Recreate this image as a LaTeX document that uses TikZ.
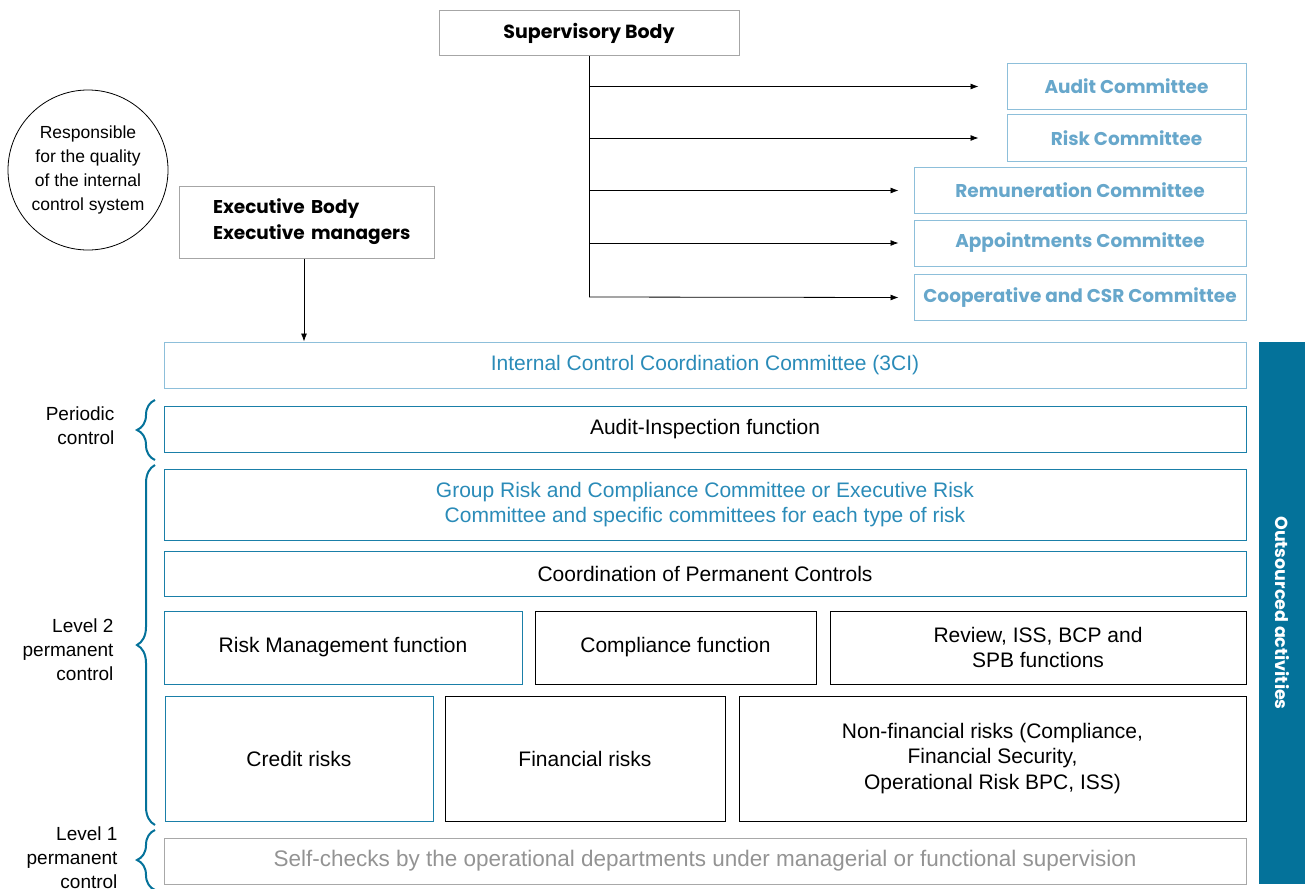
\documentclass[tikz,border=0pt]{standalone}
\usepackage{fontspec}
\setmainfont{Liberation Sans}
\newfontfamily\headfont{Poppins}
\usetikzlibrary{arrows.meta,decorations.pathreplacing}
\definecolor{lightframe}{HTML}{8DBFDA}
\definecolor{comtext}{HTML}{67A7CB}
\definecolor{bluetext}{HTML}{2A8BB8}
\definecolor{darkframe}{HTML}{1A7FA8}
\definecolor{barfill}{HTML}{04729A}
\definecolor{grayframe}{HTML}{A8A8A8}
\begin{document}
\begin{tikzpicture}[x=1pt,y=-1pt,
  box/.style={draw,rectangle,inner sep=0pt,line width=1pt,align=center,
    font=\fontsize{21}{25.5}\selectfont},
  headbox/.style={box,draw=gray!70,font=\headfont\bfseries\fontsize{18.5}{26}\selectfont},
  combox/.style={headbox,draw=lightframe,text=comtext,minimum height=46},
  widebox/.style={box,minimum width=1082,minimum height=46},
  arrow/.style={-{Latex[length=8pt,width=6pt]},line width=0.8pt},
  bracket/.style={decorate,decoration={brace,amplitude=18pt},draw=barfill,line width=2pt},
  side/.style={anchor=east,align=right,font=\fontsize{19}{24}\selectfont}]
  \useasboundingbox (0,0) rectangle (1305,888);

  \node[headbox,minimum width=300,minimum height=45,font=\headfont\bfseries\fontsize{19}{26}\selectfont]
    (supervisory) at (589,33) {Supervisory Body};
  \node[combox,minimum width=239] (audit) at (1126.5,86.5) {Audit Committee};
  \node[combox,minimum width=239] (risk) at (1126.5,138) {Risk Committee};
  \node[combox,minimum width=332] (remuneration) at (1080,190.5) {Remuneration Committee};
  \node[combox,minimum width=332] (appointments) at (1080,243) {Appointments Committee};
  \node[combox,minimum width=332] (cooperative) at (1080,297.5) {Cooperative and CSR Committee};

  \coordinate (trunk) at (589,297);
  \draw[line width=0.8pt] (supervisory.south) -- (trunk);
  \draw[arrow] (supervisory.south |- audit.west) -- ([xshift=-28pt]audit.west);
  \draw[arrow] (supervisory.south |- risk.west) -- ([xshift=-28pt]risk.west);
  \draw[arrow] (supervisory.south |- remuneration.west) -- ([xshift=-15pt]remuneration.west);
  \draw[arrow] (supervisory.south |- appointments.west) -- ([xshift=-15pt]appointments.west);
  \draw[arrow] (trunk) -- ([xshift=-15pt]cooperative.west);

  \node[circle,draw,line width=0.8pt,minimum size=160,inner sep=0pt,align=center,
    font=\fontsize{17.5}{24}\selectfont] (responsible) at (88,170)
    {Responsible\\for the quality\\of the internal\\control system};
  \node[headbox,minimum width=255,minimum height=72,text width=187pt,inner xsep=34pt,
    align=left] (executive) at (306.5,222)
    {\mbox{Executive Body}\\\mbox{Executive managers}};

  \node[widebox,draw=lightframe,text=bluetext] (coordcommittee) at (705,365)
    {Internal Control Coordination Committee (3CI)};
  \draw[arrow] (executive.south -| 304,0) -- (coordcommittee.north -| 304,0);
  \node[widebox,draw=darkframe] (inspection) at (705,429) {Audit-Inspection function};
  \node[widebox,draw=darkframe,text=bluetext,minimum height=71] (grouprisk) at (705,504.5)
    {Group Risk and Compliance Committee or Executive Risk\\Committee and specific committees for each type of risk};
  \node[widebox,draw=darkframe,minimum height=45] (permanent) at (705,573.5) {Coordination of Permanent Controls};

  \node[box,draw=darkframe,minimum width=358,minimum height=73] (riskmgmt) at (343,647.5) {Risk Management function};
  \node[box,minimum width=281,minimum height=73] (compliance) at (675.5,647.5) {Compliance function};
  \node[box,minimum width=416,minimum height=73] (review) at (1038,647.5) {Review, ISS, BCP and\\SPB functions};

  \node[box,draw=darkframe,minimum width=268,minimum height=125] (credit) at (299,758.5) {Credit risks};
  \node[box,minimum width=280,minimum height=125] (financial) at (585,758.5) {Financial risks};
  \node[box,minimum width=507,minimum height=125] (nonfinancial) at (992.5,758.5)
    {Non-financial risks (Compliance,\\Financial Security,\\Operational Risk BPC, ISS)};

  \node[widebox,draw=grayframe,text=gray!85,font=\fontsize{22.5}{26}\selectfont] (selfchecks) at (705,861)
    {Self-checks by the operational departments under managerial or functional supervision};

  \node[fill=barfill,text=white,rotate=-90,minimum width=542,minimum height=46,inner sep=0pt,
    font=\headfont\bfseries\fontsize{17.5}{20}\selectfont] (outsourced) at (1282,613) {Outsourced activities};

  \draw[bracket] (155,460) -- (155,400);
  \draw[bracket] (155,825) -- (155,465);
  \draw[bracket] (155,890) -- (155,830);
  \node[side] (periodic) at (118,426) {Periodic\\control};
  \node[side] (level2) at (117,650) {Level 2\\permanent\\control};
  \node[side] (level1) at (121,858) {Level 1\\permanent\\control};
\end{tikzpicture}
\end{document}
